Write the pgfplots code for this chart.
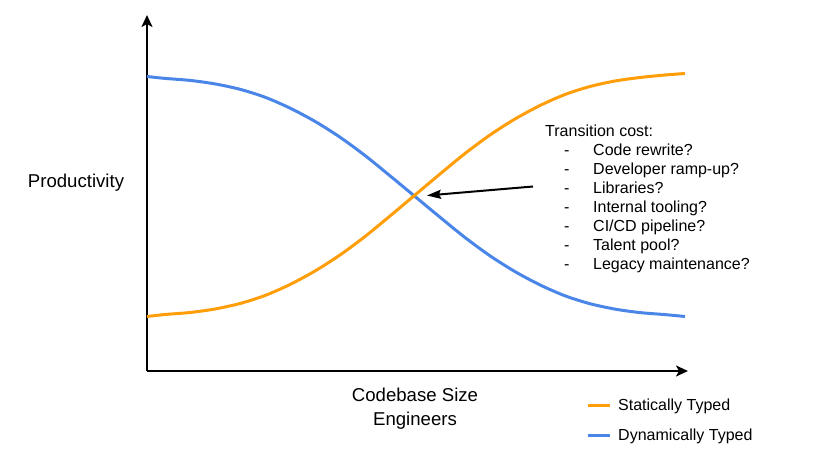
\documentclass[border=0pt]{standalone}
\usepackage{fontspec}
\setmainfont{Liberation Sans}
\usepackage{pgfplots}
\pgfplotsset{compat=1.18}
\usetikzlibrary{arrows.meta}
\definecolor{statorange}{RGB}{255,158,8}
\definecolor{dynblue}{RGB}{74,134,232}
\begin{document}
\begin{tikzpicture}
\begin{axis}[
  scale only axis,
  width=541pt, height=356pt,
  xmin=147, xmax=688, ymin=85, ymax=441,
  axis lines=left,
  axis line style={line width=2.5pt, -{Stealth[length=12pt,width=11pt,inset=3pt]}},
  xtick=\empty, ytick=\empty,
  clip=false,
  reverse legend,
  legend image code/.code={\draw[#1] (0pt,0pt) -- (22pt,0pt);},
  legend cell align=left,
  legend style={at={(axis cs:586,60)}, anchor=north west, draw=none, fill=none,
    inner sep=0pt, row sep=11pt, font=\fontsize{16}{19}\selectfont,
    nodes={inner sep=2pt, text height=12pt, text depth=3pt},
    /tikz/every odd column/.style={column sep=5pt}},
]
\coordinate (bl) at (axis cs:0,0);
\coordinate (tr) at (axis cs:817,456);
% Dynamically typed (drawn first, under the orange curve)
\addplot[dynblue, line width=3pt, smooth] coordinates {
 (147,379.5) (165,377.6) (190,375.6) (215,372.1) (240,366.7) (265,358.8)
 (290,347.9) (315,334.6) (340,318.8) (365,300.5) (390,280.2) (415,259.5)
 (440,238.8) (465,218.5) (490,200.2) (515,184.4) (540,171.1) (565,160.2)
 (590,152.3) (615,146.9) (640,143.4) (665,141.4) (685,139.5)};
\addlegendentry{Dynamically Typed}
% Statically typed
\addplot[statorange, line width=3pt, smooth] coordinates {
 (147,139.5) (165,141.5) (190,143.5) (215,147) (240,152.5) (265,160.5)
 (290,171.5) (315,185) (340,201) (365,219.5) (390,240) (415,261)
 (440,282) (465,302.5) (490,321) (515,337) (540,350.5) (565,361.5)
 (590,369.5) (615,375) (640,378.5) (665,381) (685,382.5)};
\addlegendentry{Statically Typed}
% annotation arrow
\draw[line width=2pt, -{Stealth[length=14pt,width=9pt,inset=2pt]}] (axis cs:533,269.5) -- (axis cs:427,260.5);
% labels
\node[font=\fontsize{18.6}{22}\selectfont] at (axis cs:76,273) {Productivity};
\node[font=\fontsize{18.6}{22}\selectfont] at (axis cs:415,61) {Codebase Size};
\node[font=\fontsize{18.6}{22}\selectfont] at (axis cs:415,35) {Engineers};
% transition cost text
\begin{scope}[every node/.style={font=\fontsize{16}{19}\selectfont, inner sep=0pt, anchor=base west}]
\node at (axis cs:545,319.2) {Transition cost:};
\node at (axis cs:564,300.2) {-}; \node at (axis cs:593,300.2) {Code rewrite?};
\node at (axis cs:564,281.2) {-}; \node at (axis cs:593,281.2) {Developer ramp-up?};
\node at (axis cs:564,262.2) {-}; \node at (axis cs:593,262.2) {Libraries?};
\node at (axis cs:564,243.2) {-}; \node at (axis cs:593,243.2) {Internal tooling?};
\node at (axis cs:564,224.2) {-}; \node at (axis cs:593,224.2) {CI/CD pipeline?};
\node at (axis cs:564,205.2) {-}; \node at (axis cs:593,205.2) {Talent pool?};
\node at (axis cs:564,186.2) {-}; \node at (axis cs:593,186.2) {Legacy maintenance?};
\end{scope}
\end{axis}
\pgfresetboundingbox
\path[use as bounding box] (bl) rectangle (tr);
\end{tikzpicture}
\end{document}
